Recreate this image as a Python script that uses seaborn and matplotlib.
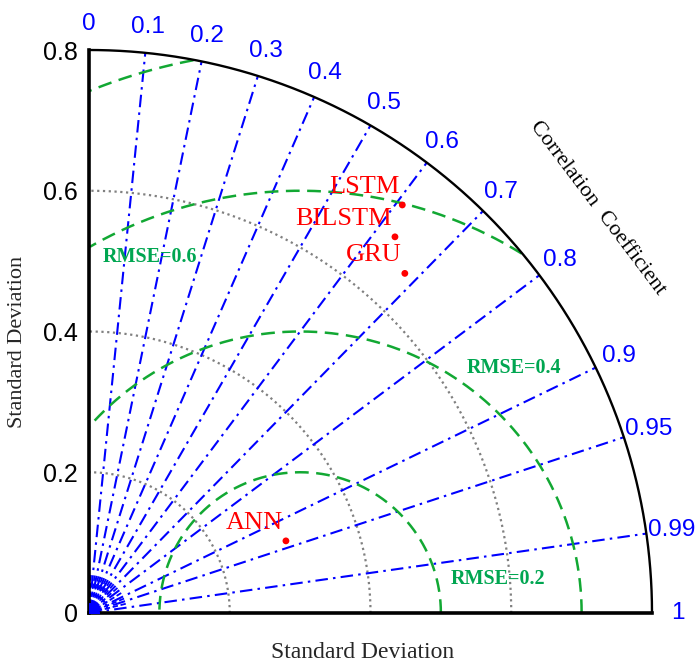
import numpy as np
import pandas as pd
import matplotlib
matplotlib.use("Agg")
import matplotlib.pyplot as plt
import seaborn as sns

# ---------------- data ----------------
models = ["ANN", "LSTM", "BILSTM", "GRU"]
model_std = [0.298, 0.731, 0.689, 0.659]
model_corr = [0.939, 0.609, 0.631, 0.681]

ref_std = 0.30
max_std = 0.80
std_ticks = [0.0, 0.2, 0.4, 0.6, 0.8]
std_tick_labels = ["0", "0.2", "0.4", "0.6", "0.8"]
std_grid = [0.2, 0.4, 0.6]
corr_lines = [0.1, 0.2, 0.3, 0.4, 0.5, 0.6, 0.7, 0.8, 0.9, 0.95, 0.99]
corr_labels = [0.0, 0.1, 0.2, 0.3, 0.4, 0.5, 0.6, 0.7, 0.8, 0.9, 0.95, 0.99, 1.0]
corr_label_text = ["0", "0.1", "0.2", "0.3", "0.4", "0.5", "0.6", "0.7", "0.8", "0.9", "0.95", "0.99", "1"]
minor_corr = [0.05, 0.15, 0.25, 0.35, 0.45, 0.55, 0.65, 0.75, 0.85, 0.925, 0.97]
rmse_levels = [0.2, 0.4, 0.6, 0.8]
rmse_label_levels = [0.2, 0.4, 0.6]
rmse_label_pos = [(0.581, 0.048), (0.604, 0.348), (0.087, 0.506)]

BLUE = "#0000FF"
GREEN_LINE = "#12A833"
GREEN_TEXT = "#00A651"
GREY = "#808080"
RED = "#FF0000"

sns.set_theme(style="white")
plt.rcParams["font.family"] = ["Liberation Sans", "DejaVu Sans"]

W, H = 699, 664
fig = plt.figure(figsize=(W / 100, H / 100), dpi=100)
ox, oy = 89, 613
span = 563
ax = fig.add_axes([ox / W, (H - oy) / H, span / W, span / H])
ax.set_xlim(0, max_std)
ax.set_ylim(0, max_std)

dashdot = (0, (6, 2.5, 1.2, 2.5))

# grey dotted std circles
t = np.linspace(0, np.pi / 2, 300)
for r in std_grid:
    df = pd.DataFrame({"x": r * np.cos(t), "y": r * np.sin(t)})
    sns.lineplot(data=df, x="x", y="y", sort=False, estimator=None, ax=ax,
                 color=GREY, linestyle=(0, (1, 1.6)), linewidth=1.6)

# blue dash-dot correlation lines
for c in corr_lines:
    s = np.sqrt(1 - c ** 2)
    df = pd.DataFrame({"x": [0, max_std * c], "y": [0, max_std * s]})
    sns.lineplot(data=df, x="x", y="y", sort=False, estimator=None, ax=ax,
                 color=BLUE, linestyle=dashdot, linewidth=1.5)
for c in minor_corr:
    s = np.sqrt(1 - c ** 2)
    df = pd.DataFrame({"x": [0, 0.055 * c], "y": [0, 0.055 * s]})
    sns.lineplot(data=df, x="x", y="y", sort=False, estimator=None, ax=ax,
                 color=BLUE, linestyle=(0, (3, 1.5)), linewidth=1.3)
ax.scatter([0], [0], s=200, color=BLUE, zorder=3)

# green dashed RMSE circles centred on the reference point
tt = np.linspace(0, np.pi, 800)
for R in rmse_levels:
    x = ref_std + R * np.cos(tt)
    y = R * np.sin(tt)
    m = (x >= 0) & (x ** 2 + y ** 2 <= max_std ** 2 + 1e-9)
    df = pd.DataFrame({"x": x[m], "y": y[m]})
    sns.lineplot(data=df, x="x", y="y", sort=False, estimator=None, ax=ax,
                 color=GREEN_LINE, linestyle=(0, (5.5, 3)), linewidth=1.8)

# outer arc
ta = np.linspace(0, np.pi / 2, 400)
arc = pd.DataFrame({"x": max_std * np.cos(ta), "y": max_std * np.sin(ta)})
sns.lineplot(data=arc, x="x", y="y", sort=False, estimator=None, ax=ax,
             color="black", linewidth=1.7, clip_on=False)

# model points
pts = pd.DataFrame({
    "model": models,
    "x": [s * c for s, c in zip(model_std, model_corr)],
    "y": [s * np.sqrt(1 - c ** 2) for s, c in zip(model_std, model_corr)],
})
sns.scatterplot(data=pts, x="x", y="y", ax=ax, color=RED, s=24,
                edgecolor="none", zorder=5, legend=False)
for _, row in pts.iterrows():
    ax.annotate(row["model"], (row["x"], row["y"]), xytext=(-3, 12),
                textcoords="offset pixels", ha="right", va="baseline",
                color=RED, fontsize=19, family="Liberation Serif", zorder=6)

# RMSE labels
for lv, (lx, ly) in zip(rmse_label_levels, rmse_label_pos):
    ax.text(lx, ly, f"RMSE={lv}", color=GREEN_TEXT, fontsize=14.5,
            fontweight="bold", family="Liberation Serif", ha="center", va="center")

# correlation tick labels around the arc
rl = 0.837
for c, lab in zip(corr_labels, corr_label_text):
    s = np.sqrt(max(0.0, 1 - c ** 2))
    ax.text(rl * c, rl * s, lab, color=BLUE, fontsize=17.5, ha="center",
            va="center", clip_on=False)

ax.text(0.723, 0.575, "Correlation  Coefficient", rotation=-53,
        rotation_mode="anchor", ha="center", va="center", fontsize=16,
        family="Liberation Serif", color="black")

# axes styling
for side in ["top", "right"]:
    ax.spines[side].set_visible(False)
for side in ["left", "bottom"]:
    ax.spines[side].set_linewidth(2.6)
    ax.spines[side].set_color("black")
ax.set_xticks([])
ax.set_yticks(std_ticks)
ax.set_yticklabels(std_tick_labels)
ax.tick_params(axis="y", length=0, pad=8, labelsize=18, labelcolor="black")
ax.set_xlabel("")
ax.set_ylabel("")
ax.grid(False)

fig.text(363 / W, 1 - 653 / H, "Standard Deviation", ha="center", va="center",
         fontsize=17, family="Liberation Serif")
fig.text(18 / W, 1 - 342 / H, "Standard Deviation", ha="center", va="center",
         rotation=90, fontsize=16, family="Liberation Serif")

fig.savefig("out.png", dpi=100)
